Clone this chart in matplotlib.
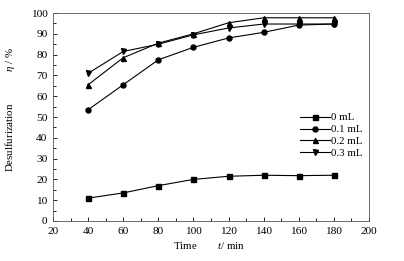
import matplotlib
matplotlib.use("Agg")
import matplotlib.pyplot as plt
from matplotlib.ticker import MultipleLocator

plt.rcParams['font.family'] = ['Liberation Serif', 'DejaVu Serif']
plt.rcParams['mathtext.fontset'] = 'custom'
plt.rcParams['mathtext.it'] = 'Liberation Serif:italic'
plt.rcParams['mathtext.rm'] = 'Liberation Serif'

time = [40, 60, 80, 100, 120, 140, 160, 180]
labels = ["0 mL", "0.1 mL", "0.2 mL", "0.3 mL"]
markers = ["s", "o", "^", "v"]
s0 = [11, 13.5, 17, 20, 21.5, 22, 21.8, 22]
s1 = [53.5, 65.5, 77.5, 83.5, 88, 90.7, 94.2, 94.7]
s2 = [65.5, 78.5, 85.5, 90, 95.3, 97.7, 97.7, 97.7]
s3 = [71, 81.5, 85, 89.5, 92.8, 94.7, 94.7, 94.7]
series = [s0, s1, s2, s3]

fig = plt.figure(figsize=(4.04, 2.61), dpi=100)
ax = fig.add_axes([53/404, 1 - 221/261, (369-53)/404, (221-13)/261])

for ys, lab, m in zip(series, labels, markers):
    ax.plot(time, ys, color='black', lw=0.8, marker=m, markersize=3.6, label=lab)

ax.set_xlim(20, 200)
ax.set_ylim(0, 100)
ax.xaxis.set_major_locator(MultipleLocator(20))
ax.xaxis.set_minor_locator(MultipleLocator(10))
ax.yaxis.set_major_locator(MultipleLocator(10))
ax.yaxis.set_minor_locator(MultipleLocator(5))
ax.tick_params(which='both', direction='in', top=False, right=False, labelsize=8.2, width=0.6)
ax.tick_params(axis='y', pad=4)
ax.tick_params(axis='x', pad=4)
ax.tick_params(which='major', length=3)
ax.tick_params(which='minor', length=2)
for sp in ax.spines.values():
    sp.set_linewidth(0.6)
    sp.set_color('#555555')

ax.set_xlabel(r'Time        $t$/ min', fontsize=7.8)
ax.xaxis.set_label_coords((209 - 53) / 316, -(240 - 221) / 208)
ax.set_ylabel(r'Desulfurization            $\eta$ / %', fontsize=7.8)
ax.yaxis.set_label_coords(-(53 - 17) / 316, (221 - 110) / 208)

ax.legend(loc='center left', bbox_to_anchor=(300/404, 1 - 135.5/261), bbox_transform=fig.transFigure,
          frameon=False, fontsize=7.8, handlelength=2.8, handletextpad=0.1,
          labelspacing=0.22, borderpad=0, borderaxespad=0)

fig.savefig('out.png', dpi=100)
